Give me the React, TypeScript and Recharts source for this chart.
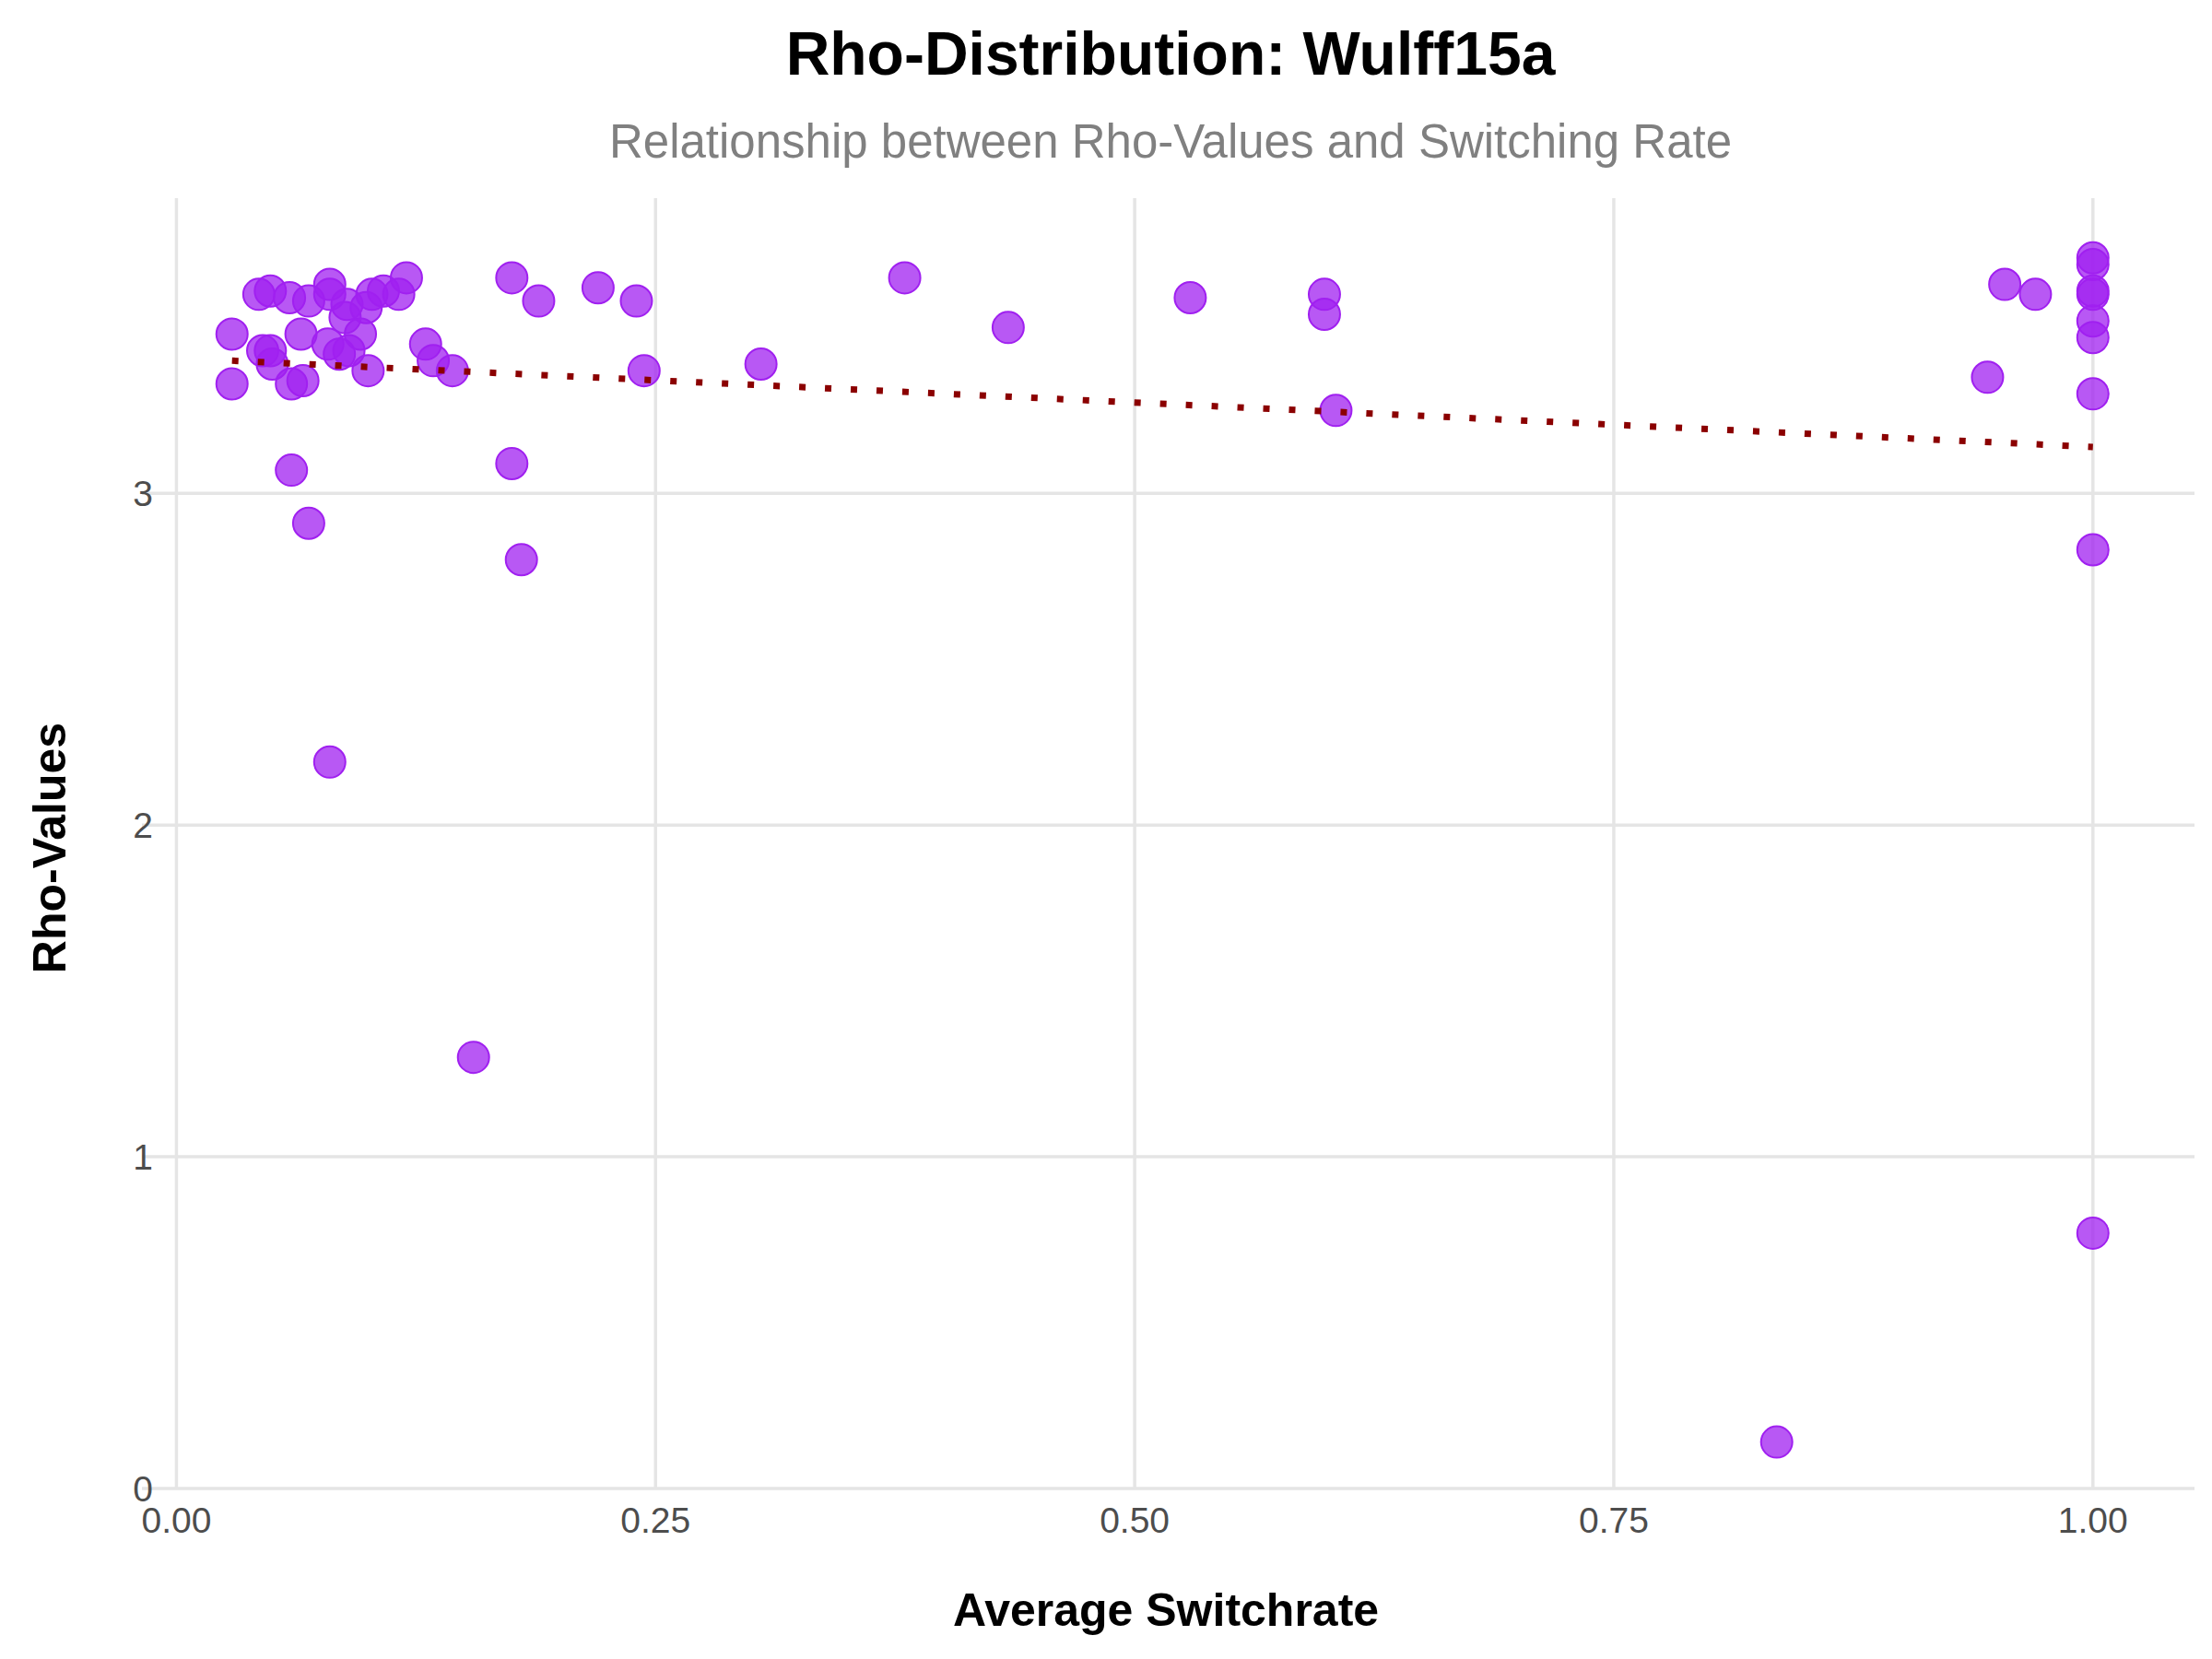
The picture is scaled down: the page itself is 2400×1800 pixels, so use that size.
import { ScatterChart, Scatter, XAxis, YAxis, CartesianGrid } from "recharts";

const switchRate = [
  0.029, 0.029, 0.043, 0.049, 0.045, 0.049, 0.05, 0.059, 0.065, 0.06, 0.066, 0.069,
  0.08, 0.08, 0.079, 0.085, 0.089, 0.088, 0.09, 0.096, 0.099, 0.102, 0.1, 0.108,
  0.116, 0.12, 0.13, 0.134, 0.144, 0.06, 0.069, 0.08, 0.155, 0.175, 0.175, 0.18,
  0.189, 0.22, 0.24, 0.244, 0.305, 0.38, 0.434, 0.529, 0.599, 0.599, 0.605, 0.835,
  0.945, 0.954, 0.97, 1, 1, 1, 1, 1, 1, 1, 1, 1,
];
const rhoValues = [
  3.48, 3.33, 3.6, 3.61, 3.43, 3.43, 3.39, 3.59, 3.48, 3.33, 3.34, 3.58,
  3.63, 3.6, 3.45, 3.42, 3.57, 3.53, 3.43, 3.48, 3.56, 3.6, 3.37, 3.61,
  3.6, 3.65, 3.45, 3.4, 3.37, 3.07, 2.91, 2.19, 1.3, 3.65, 3.09, 2.8,
  3.58, 3.62, 3.58, 3.37, 3.39, 3.65, 3.5, 3.59, 3.6, 3.54, 3.25, 0.14,
  3.35, 3.63, 3.6, 3.71, 3.69, 3.61, 3.6, 3.52, 3.47, 3.3, 2.83, 0.77,
];
const trendX = [0.029, 1];
const trendY = [3.4, 3.14];
const xTicks = [0, 0.25, 0.5, 0.75, 1];
const yTicks = [0, 1, 2, 3];

const points = switchRate.map((x, i) => ({ x, y: rhoValues[i] }));
const trend = trendX.map((x, i) => ({ x, y: trendY[i] }));

const Dot = (p: any) => (
  <circle cx={p.cx} cy={p.cy} r={17} fill="#a020f0" fillOpacity={0.75} stroke="#a020f0" strokeWidth={2} />
);

const font = "Liberation Sans, Arial, sans-serif";

export default function App() {
  return (
    <div style={{ position: "relative", width: 2400, height: 1800, margin: -8, background: "#fff", fontFamily: font }}>
      <div style={{ position: "absolute", top: 20, width: 2400, paddingLeft: 140, boxSizing: "border-box", textAlign: "center", fontSize: 66, fontWeight: 700 }}>
        Rho-Distribution: Wulff15a
      </div>
      <div style={{ position: "absolute", top: 124, width: 2400, paddingLeft: 140, boxSizing: "border-box", textAlign: "center", fontSize: 51, color: "#808080" }}>
        Relationship between Rho-Values and Switching Rate
      </div>
      <div style={{ position: "absolute", top: 1718, width: 2400, paddingLeft: 130, textAlign: "center", fontSize: 50, fontWeight: 700, boxSizing: "border-box" }}>
        Average Switchrate
      </div>
      <div style={{ position: "absolute", left: 54, top: 920, transform: "translate(-50%,-50%) rotate(-90deg)", fontSize: 50, fontWeight: 700, whiteSpace: "nowrap" }}>
        Rho-Values
      </div>
      <ScatterChart width={2400} height={1800} margin={{ top: 215, right: 19, bottom: 0, left: 0 }} style={{ position: "absolute", top: 0, left: 0 }}>
        <CartesianGrid stroke="#e5e5e5" strokeWidth={3.5} horizontalValues={yTicks} verticalValues={xTicks} />
        <XAxis
          type="number"
          dataKey="x"
          domain={[-0.018, 1.053]}
          ticks={xTicks}
          tickFormatter={(v: number) => v.toFixed(2)}
          axisLine={false}
          tickLine={false}
          height={185}
          tickMargin={14}
          tick={{ fontSize: 39, fill: "#4d4d4d", fontFamily: font }}
        />
        <YAxis
          type="number"
          dataKey="y"
          domain={[0, 3.89]}
          ticks={yTicks}
          axisLine={false}
          tickLine={false}
          width={154}
          tickMargin={-18}
          tick={{ fontSize: 39, fill: "#4d4d4d", fontFamily: font }}
        />
        <Scatter data={points} shape={Dot} isAnimationActive={false} />
        <Scatter
          data={trend}
          line={{ stroke: "#8b0000", strokeWidth: 7, strokeDasharray: "7 21" }}
          shape={() => null}
          isAnimationActive={false}
        />
      </ScatterChart>
    </div>
  );
}
